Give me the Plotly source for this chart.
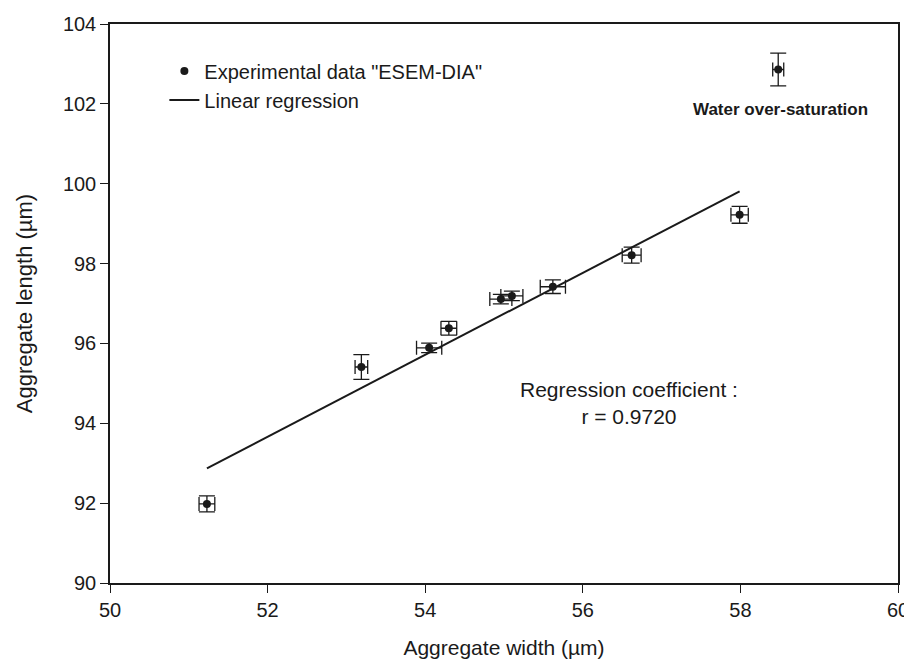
import plotly.graph_objects as go

# Experimental data "ESEM-DIA"
width_um = [51.23, 53.19, 54.05, 54.30, 54.96, 55.10, 55.62, 56.62, 57.99, 58.48]
length_um = [91.98, 95.41, 95.89, 96.38, 97.11, 97.19, 97.42, 98.21, 99.22, 102.86]
width_err = [0.10, 0.08, 0.16, 0.10, 0.14, 0.14, 0.16, 0.12, 0.11, 0.07]
length_err = [0.20, 0.31, 0.12, 0.17, 0.12, 0.12, 0.17, 0.20, 0.21, 0.41]

# Linear regression line (end points)
reg_x = [51.23, 57.99]
reg_y = [92.87, 99.81]

INK = '#1a1a1a'
FONT = 'Liberation Sans, Arial, Helvetica, sans-serif'

fig = go.Figure()

fig.add_trace(go.Scatter(
    x=width_um,
    y=length_um,
    mode='markers',
    name='Experimental data "ESEM-DIA"',
    marker=dict(color=INK, size=8),
    error_x=dict(type='data', array=width_err, color=INK, thickness=1.3, width=7),
    error_y=dict(type='data', array=length_err, color=INK, thickness=1.3, width=8),
))

fig.add_trace(go.Scatter(
    x=reg_x,
    y=reg_y,
    mode='lines',
    name='Linear regression',
    line=dict(color=INK, width=2),
))

fig.add_annotation(
    x=58.51, y=101.85, xref='x', yref='y',
    text='<b>Water over-saturation</b>',
    showarrow=False, font=dict(size=17, color=INK, family=FONT),
)
fig.add_annotation(
    x=56.58, y=94.52, xref='x', yref='y',
    text='Regression coefficient :<br>r = 0.9720',
    showarrow=False, align='center',
    font=dict(size=21, color=INK, family=FONT),
)

axis_common = dict(
    showgrid=False,
    zeroline=False,
    showline=True,
    linecolor=INK,
    linewidth=1.5,
    mirror=True,
    ticks='outside',
    ticklen=8,
    tickwidth=1.3,
    tickcolor=INK,
    automargin=False,
    ticklabeloverflow='allow',
    tickfont=dict(size=20, color=INK, family=FONT),
)

# page body adds an 8 px margin, so keep the figure inside the window
fig.update_layout(
    width=904,
    height=651,
    paper_bgcolor='white',
    plot_bgcolor='white',
    font=dict(family=FONT, color=INK),
    margin=dict(l=102, r=14, t=16, b=76),
    xaxis=dict(
        range=[50, 60],
        dtick=2,
        title=dict(text='Aggregate width (µm)', font=dict(size=21, color=INK, family=FONT), standoff=24),
        **axis_common,
    ),
    yaxis=dict(
        range=[90, 104],
        dtick=2,
        title=dict(text='Aggregate length (µm)', font=dict(size=22, color=INK, family=FONT), standoff=24),
        **axis_common,
    ),
    legend=dict(
        x=0.069, y=0.951,
        xanchor='left', yanchor='top',
        bgcolor='rgba(0,0,0,0)',
        font=dict(size=20, color=INK, family=FONT),
        tracegroupgap=0,
    ),
    showlegend=True,
)

fig.write_html("out.html")
